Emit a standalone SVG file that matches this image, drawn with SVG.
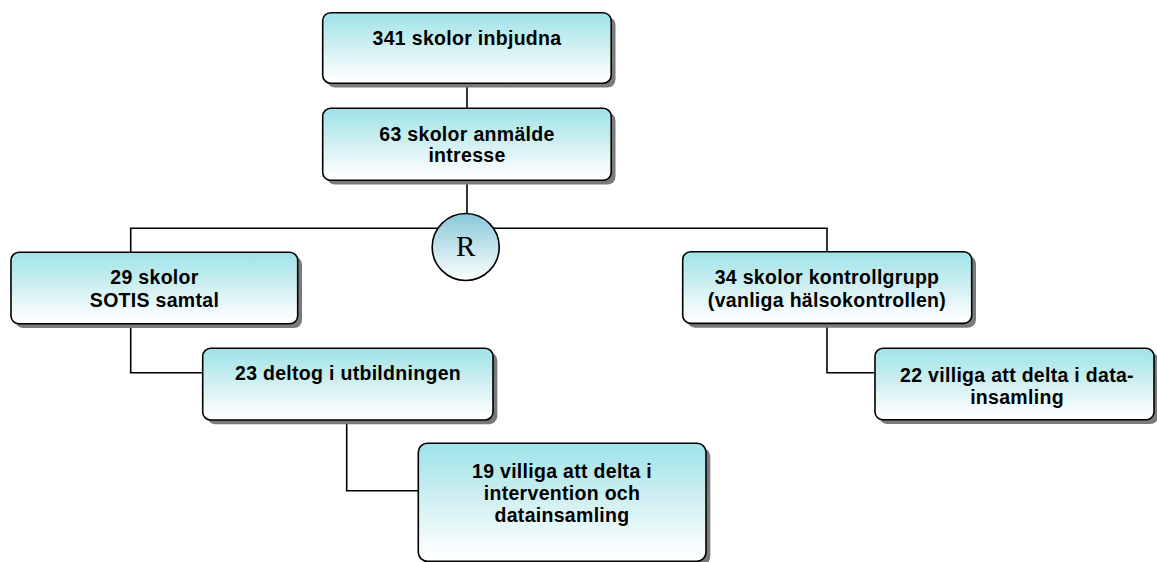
<svg xmlns="http://www.w3.org/2000/svg" width="1157" height="562" viewBox="0 0 1157 562">
<style>
.box{fill:url(#g);stroke:#000;stroke-width:1.6}
.sh{fill:#7a7a7a}
.t{font-family:"Liberation Sans",Arial,sans-serif;font-weight:bold;font-size:19.5px;letter-spacing:0.3px;fill:#000;text-anchor:middle}
.c{fill:none;stroke:#000;stroke-width:1.6}
</style>
<defs>
<linearGradient id="g" x1="0" y1="0" x2="0" y2="1">
<stop offset="0" stop-color="#9ee3e8"/>
<stop offset="0.5" stop-color="#d2f0f2"/>
<stop offset="0.85" stop-color="#f5fcfd"/>
<stop offset="1" stop-color="#ffffff"/>
</linearGradient>
<linearGradient id="gc" x1="0" y1="0" x2="0" y2="1">
<stop offset="0" stop-color="#86c9d8"/>
<stop offset="1" stop-color="#ffffff"/>
</linearGradient>
</defs>
<g id="connectors">
<path class="c" d="M467,83 V108"/>
<path class="c" d="M467,180 V214"/>
<path class="c" d="M130.7,252 V228.3 H827 V252"/>
<path class="c" d="M130.7,324 V372.7 H203"/>
<path class="c" d="M827,323 V372.7 H875"/>
<path class="c" d="M346.7,420 V490.7 H418.3"/>
</g>
<g id="n1">
<rect class="sh" x="327" y="17" width="288.5" height="70.5" rx="8"/>
<rect class="box" x="322.7" y="12.7" width="288.5" height="70.5" rx="8"/>
<text class="t" x="467" y="44.5">341 skolor inbjudna</text>
</g>
<g id="n2">
<rect class="sh" x="327" y="112.5" width="288.5" height="72" rx="8"/>
<rect class="box" x="322.7" y="108.3" width="288.5" height="72" rx="8"/>
<text class="t" x="467" y="140.5">63 skolor anmälde</text>
<text class="t" x="467" y="162">intresse</text>
</g>
<g id="nR">
<circle cx="465.7" cy="247" r="33.5" fill="url(#gc)" stroke="#000" stroke-width="1.6"/>
<text x="465.7" y="256" font-family="'Liberation Serif','Times New Roman',serif" font-size="29" text-anchor="middle">R</text>
</g>
<g id="n3">
<rect class="sh" x="15.3" y="256.5" width="286.7" height="71.5" rx="8"/>
<rect class="box" x="11" y="252.3" width="286.7" height="71.5" rx="8"/>
<text class="t" x="154.5" y="284">29 skolor</text>
<text class="t" x="154.5" y="307">SOTIS samtal</text>
</g>
<g id="n4">
<rect class="sh" x="207" y="352.5" width="290.3" height="71.7" rx="8"/>
<rect class="box" x="202.7" y="348.3" width="290.3" height="71.7" rx="8"/>
<text class="t" x="348" y="379.5">23 deltog i utbildningen</text>
</g>
<g id="n5">
<rect class="sh" x="687" y="256" width="289" height="71.7" rx="8"/>
<rect class="box" x="682.7" y="251.7" width="289" height="71.7" rx="8"/>
<text class="t" x="827" y="284.3">34 skolor kontrollgrupp</text>
<text class="t" x="827" y="306.7">(vanliga hälsokontrollen)</text>
</g>
<g id="n6">
<rect class="sh" x="879.3" y="352.5" width="279" height="71.5" rx="8"/>
<rect class="box" x="875" y="348.3" width="279" height="71.5" rx="8"/>
<text class="t" x="1017" y="381.7">22 villiga att delta i data-</text>
<text class="t" x="1017" y="404">insamling</text>
</g>
<g id="n7">
<rect class="sh" x="422.6" y="447.6" width="287.7" height="118" rx="9"/>
<rect class="box" x="418.3" y="443.3" width="287.7" height="118" rx="9"/>
<text class="t" x="562" y="478.3">19 villiga att delta i</text>
<text class="t" x="562" y="500">intervention och</text>
<text class="t" x="562" y="521.7">datainsamling</text>
</g>
</svg>
